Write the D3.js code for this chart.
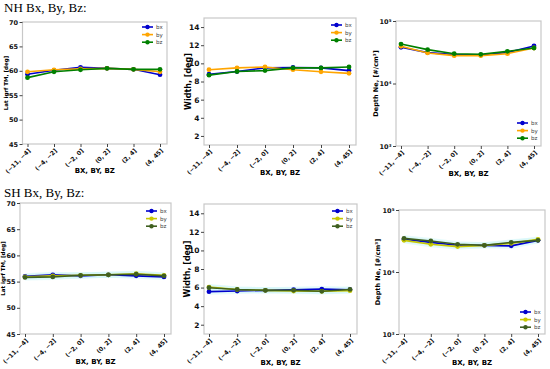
<!DOCTYPE html>
<html>
<head>
<meta charset="utf-8">
<script src="https://cdn.jsdelivr.net/npm/d3@7"></script>
<style>
  body { margin: 0; background: #fff; }
  svg { display: block; }
  .tick text { font-family: "DejaVu Sans", sans-serif; font-weight: bold; }
</style>
</head>
<body>
<svg id="chart" width="550" height="369"></svg>
<script>
// bins of the IMF component (nT)
const bins = ["(\u221211, \u22124]", "(\u22124, \u22122]", "(\u22122, 0]", "(0, 2]", "(2, 4]", "(4, 45]"];
const seriesNames = ["bx", "by", "bz"];

// NH
const nhLatBx = [59.3, 60.1, 60.7, 60.5, 60.3, 59.2];
const nhLatBy = [59.8, 60.2, 60.4, 60.5, 60.3, 59.8];
const nhLatBz = [58.6, 59.8, 60.2, 60.5, 60.3, 60.3];

const nhWidthBx = [8.8, 9.1, 9.5, 9.55, 9.5, 9.2];
const nhWidthBy = [9.3, 9.5, 9.6, 9.3, 9.07, 8.9];
const nhWidthBz = [8.7, 9.1, 9.2, 9.5, 9.5, 9.6];

const nhDepthBx = [37900, 31200, 29000, 28600, 31300, 39800];
const nhDepthBy = [39400, 30800, 27900, 27900, 30000, 37000];
const nhDepthBz = [42800, 34800, 30000, 29300, 32700, 37000];

// SH
const shLatBx = [56.0, 56.3, 56.1, 56.3, 56.1, 55.9];
const shLatBy = [55.9, 56.1, 56.2, 56.3, 56.5, 56.2];
const shLatBz = [55.8, 55.9, 56.2, 56.3, 56.4, 56.1];

const shWidthBx = [5.56, 5.63, 5.7, 5.77, 5.84, 5.77];
const shWidthBy = [6.05, 5.8, 5.7, 5.63, 5.6, 5.67];
const shWidthBz = [5.98, 5.8, 5.7, 5.7, 5.6, 5.8];

const shDepthBx = [33800, 30000, 27000, 26900, 26400, 32400];
const shDepthBy = [32400, 28000, 25700, 26900, 29000, 33600];
const shDepthBz = [34900, 31600, 28000, 26900, 30100, 32400];

const nhColors = ["#0000cd", "#ffa500", "#008000"];
const shColors = ["#0000cd", "#c8c800", "#3f5f1f"];

const latTicks = [45, 50, 55, 60, 65, 70];
const widthTicks = [2, 4, 6, 8, 10, 12, 14];
const depthTicks = [1e3, 1e4, 1e5];

const svg = d3.select("#chart");

svg.append("text").attr("x", 4).attr("y", 12)
  .attr("font-family", "Liberation Serif, serif").attr("font-size", 13)
  .text("NH Bx, By, Bz:");
svg.append("text").attr("x", 4).attr("y", 197)
  .attr("font-family", "Liberation Serif, serif").attr("font-size", 13)
  .text("SH Bx, By, Bz:");

const supMap = { "3": "\u00b3", "4": "\u2074", "5": "\u2075" };

function drawPanel(p) {
  const xPad = 5;
  const x = d3.scalePoint().domain(bins).range([p.x0 + xPad, p.x1 - xPad - 2]);
  const y = p.log
    ? d3.scaleLog().domain(p.domain).range([p.y1, p.y0])
    : d3.scaleLinear().domain(p.domain).range([p.y1, p.y0]);

  const g = svg.append("g");

  // frame
  g.append("rect")
    .attr("x", p.x0).attr("y", p.y0)
    .attr("width", p.x1 - p.x0).attr("height", p.y1 - p.y0)
    .attr("fill", "none").attr("stroke", "#c8c8c8").attr("stroke-width", 1.2);

  // y axis
  const yAxis = d3.axisLeft(y).tickValues(p.ticks).tickSize(3).tickPadding(1.5);
  if (p.log) yAxis.tickFormat(d => "10" + supMap[String(Math.round(Math.log10(d)))]);
  const ya = g.append("g").attr("transform", `translate(${p.x0},0)`).call(yAxis);
  ya.select(".domain").remove();
  ya.selectAll("text").attr("font-size", p.tickFont).attr("fill", "#111");
  ya.selectAll("line").attr("stroke", "#444");

  // x axis
  const xAxis = d3.axisBottom(x).tickSize(3).tickPadding(2);
  const xa = g.append("g").attr("transform", `translate(0,${p.y1})`).call(xAxis);
  xa.select(".domain").remove();
  xa.selectAll("line").attr("stroke", "#444");
  xa.selectAll("text")
    .attr("font-size", 6).attr("fill", "#111")
    .attr("text-anchor", "end")
    .attr("dy", null).attr("y", 0)
    .attr("transform", "translate(3,7) rotate(-45)");

  // labels
  g.append("text")
    .attr("transform", `translate(${p.yLabelX},${(p.y0 + p.y1) / 2}) rotate(-90)`)
    .attr("text-anchor", "middle")
    .attr("font-family", "DejaVu Sans, sans-serif").attr("font-weight", "bold")
    .attr("font-size", p.yLabelFont)
    .text(p.yLabel);
  g.append("text")
    .attr("x", (p.x0 + p.x1) / 2).attr("y", p.xLabelY)
    .attr("text-anchor", "middle")
    .attr("font-family", "DejaVu Sans, sans-serif").attr("font-weight", "bold")
    .attr("font-size", 7)
    .text("BX, BY, BZ");

  const line = d3.line().x((d, i) => x(bins[i])).y(d => y(d));

  if (p.halo) {
    p.series.forEach(s => {
      g.append("path").datum(s)
        .attr("fill", "none").attr("stroke", "#d4f6f9").attr("stroke-width", 6)
        .attr("stroke-linejoin", "round").attr("opacity", 0.6)
        .attr("d", line);
    });
  }

  p.series.forEach((s, k) => {
    g.append("path").datum(s)
      .attr("fill", "none").attr("stroke", p.colors[k]).attr("stroke-width", 1.6)
      .attr("d", line);
    g.selectAll(null).data(s).enter().append("circle")
      .attr("cx", (d, i) => x(bins[i])).attr("cy", d => y(d))
      .attr("r", 2.4).attr("fill", p.colors[k]);
  });

  // legend
  const lg = g.append("g").attr("transform", `translate(${p.legX},${p.legY})`);
  seriesNames.forEach((name, k) => {
    const row = lg.append("g").attr("transform", `translate(0,${k * 7.6})`);
    row.append("line").attr("x1", 0).attr("x2", 11).attr("y1", 0).attr("y2", 0)
      .attr("stroke", p.colors[k]).attr("stroke-width", 1.6);
    row.append("circle").attr("cx", 5.5).attr("cy", 0).attr("r", 2.2).attr("fill", p.colors[k]);
    row.append("text").attr("x", 14).attr("y", 2)
      .attr("font-family", "DejaVu Sans, sans-serif").attr("font-size", 5.5).attr("fill", "#444")
      .text(name);
  });
}

const panels = [
  { x0: 22.5, x1: 167, y0: 22, y1: 144, domain: [45, 70], ticks: latTicks, tickFont: 6.5,
    yLabel: "Lat igrf TM, [deg]", yLabelX: 7.5, yLabelFont: 5.5, xLabelY: 173,
    series: [nhLatBx, nhLatBy, nhLatBz], colors: nhColors, legX: 142, legY: 27 },
  { x0: 204, x1: 356, y0: 18, y1: 145, domain: [1, 15], ticks: widthTicks, tickFont: 7.5,
    yLabel: "Width, [deg]", yLabelX: 191, yLabelFont: 8, xLabelY: 175,
    series: [nhWidthBx, nhWidthBy, nhWidthBz], colors: nhColors, legX: 331, legY: 25 },
  { x0: 396, x1: 541, y0: 21, y1: 146, domain: [1e3, 1e5], ticks: depthTicks, tickFont: 6.5, log: true,
    yLabel: "Depth Ne, [#/cm\u00b3]", yLabelX: 377.5, yLabelFont: 6.5, xLabelY: 176,
    series: [nhDepthBx, nhDepthBy, nhDepthBz], colors: nhColors, legX: 517, legY: 123 },
  { x0: 20, x1: 171, y0: 203, y1: 334, domain: [45, 70], ticks: latTicks, tickFont: 6.5,
    yLabel: "Lat igrf TM, [deg]", yLabelX: 4.5, yLabelFont: 5.5, xLabelY: 364,
    series: [shLatBx, shLatBy, shLatBz], colors: shColors, legX: 146, legY: 211, halo: true },
  { x0: 204, x1: 357, y0: 204, y1: 334, domain: [1, 15], ticks: widthTicks, tickFont: 7.5,
    yLabel: "Width, [deg]", yLabelX: 190, yLabelFont: 8, xLabelY: 365,
    series: [shWidthBx, shWidthBy, shWidthBz], colors: shColors, legX: 332, legY: 211, halo: true },
  { x0: 399, x1: 545, y0: 210, y1: 334, domain: [1e3, 1e5], ticks: depthTicks, tickFont: 6.5, log: true,
    yLabel: "Depth Ne, [#/cm\u00b3]", yLabelX: 380, yLabelFont: 6.5, xLabelY: 365,
    series: [shDepthBx, shDepthBy, shDepthBz], colors: shColors, legX: 520, legY: 312, halo: true }
];

panels.forEach(drawPanel);
</script>
</body>
</html>
